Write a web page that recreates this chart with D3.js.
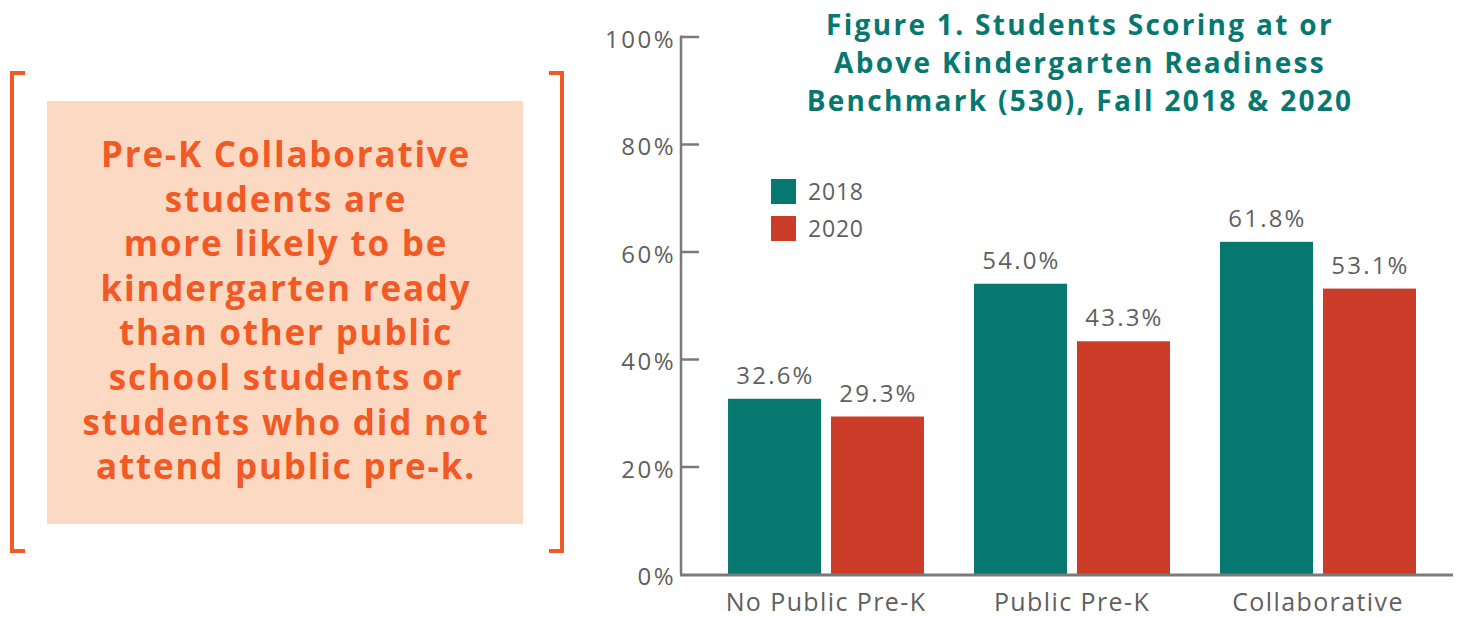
<!DOCTYPE html>
<html>
<head>
<meta charset="utf-8">
<script src="https://cdn.jsdelivr.net/npm/d3@7"></script>
<style>
  body { margin: 0; background: #fff; }
  svg { display: block; font-family: "Open Sans", sans-serif; }
</style>
</head>
<body>
<div id="chart"></div>
<script>
// data
const categories = ["No Public Pre-K", "Public Pre-K", "Collaborative"];
const years = ["2018", "2020"];
const values2018 = [32.6, 54.0, 61.8];
const values2020 = [29.3, 43.3, 53.1];
const yTicks = [0, 20, 40, 60, 80, 100];
const titleLines = ["Figure 1. Students Scoring at or", "Above Kindergarten Readiness", "Benchmark (530), Fall 2018 & 2020"];
const calloutLines = ["Pre-K Collaborative", "students are", "more likely to be", "kindergarten ready",
    "than other public", "school students or", "students who did not", "attend public pre-k."];

const width = 1458, height = 617;
const colors = {"2018": "#077870", "2020": "#cb3d28"};
const orange = "#f15a24";
const grey = "#5f5f5f";

const svg = d3.select("#chart").append("svg")
    .attr("width", width)
    .attr("height", height);

// ---- callout on the left ----
const callout = svg.append("g");
callout.append("rect")
    .attr("x", 47).attr("y", 101)
    .attr("width", 476).attr("height", 423)
    .attr("fill", "#fbd9c3");

// brackets
const bracket = (x, dir) => `M${x + dir * 13},73 H${x} V551 H${x + dir * 13}`;
callout.append("path").attr("d", bracket(12, 1))
    .attr("fill", "none").attr("stroke", orange).attr("stroke-width", 4);
callout.append("path").attr("d", bracket(562, -1))
    .attr("fill", "none").attr("stroke", orange).attr("stroke-width", 4);

callout.append("g")
    .selectAll("text")
    .data(calloutLines)
    .enter().append("text")
    .attr("x", 286)
    .attr("y", (d, i) => 167 + i * 44.6)
    .attr("text-anchor", "middle")
    .attr("fill", orange)
    .attr("font-size", 35)
    .attr("font-weight", 700)
    .attr("letter-spacing", 1.8)
    .text(d => d);

// ---- bar chart ----
const margin = {left: 681, right: 1453, top: 36.5, bottom: 574};

const y = d3.scaleLinear()
    .domain([0, 100])
    .range([margin.bottom, margin.top]);

const x0 = d3.scaleBand()
    .domain(categories)
    .range([703, 1441])
    .paddingInner(0.2033)
    .paddingOuter(0.1017);

const x1 = d3.scaleBand()
    .domain(years)
    .range([0, x0.bandwidth()])
    .paddingInner(0.097);

const rows = categories.map((c, i) => ({
    category: c,
    values: [{year: "2018", value: values2018[i]}, {year: "2020", value: values2020[i]}]
}));

// y axis
const yAxis = svg.append("g")
    .attr("transform", `translate(${margin.left},0)`)
    .call(d3.axisRight(y).tickValues(yTicks).tickSize(18).tickFormat(d => d + "%"));
yAxis.select(".domain").remove();
yAxis.selectAll(".tick line").attr("stroke", "#7a7a7a").attr("stroke-width", 2.5);
yAxis.selectAll(".tick text")
    .attr("x", -5)
    .attr("dy", "0.45em")
    .attr("text-anchor", "end")
    .attr("fill", grey)
    .attr("font-size", 24)
    .attr("letter-spacing", 2.5)
    .attr("font-family", "'Open Sans', sans-serif");
yAxis.selectAll(".tick").filter(d => d === 0).select("line").remove();

// bars
const groups = svg.append("g")
    .selectAll("g")
    .data(rows)
    .enter().append("g")
    .attr("transform", d => `translate(${x0(d.category)},0)`);

groups.selectAll("rect")
    .data(d => d.values)
    .enter().append("rect")
    .attr("x", d => x1(d.year))
    .attr("y", d => y(d.value))
    .attr("width", x1.bandwidth())
    .attr("height", d => y(0) - y(d.value))
    .attr("fill", d => colors[d.year]);

groups.selectAll("text")
    .data(d => d.values)
    .enter().append("text")
    .attr("x", d => x1(d.year) + x1.bandwidth() / 2 + 1)
    .attr("y", d => y(d.value) - 15)
    .attr("text-anchor", "middle")
    .attr("fill", grey)
    .attr("font-size", 24)
    .attr("letter-spacing", 2.2)
    .text(d => d.value.toFixed(1) + "%");

// axis lines
svg.append("line")
    .attr("x1", margin.left).attr("x2", margin.left)
    .attr("y1", y(100) - 1).attr("y2", y(0))
    .attr("stroke", "#7a7a7a").attr("stroke-width", 2.5);
svg.append("line")
    .attr("x1", margin.left - 1).attr("x2", margin.right)
    .attr("y1", y(0) + 1).attr("y2", y(0) + 1)
    .attr("stroke", "#7a7a7a").attr("stroke-width", 3);

// x axis labels
const xAxis = svg.append("g")
    .attr("transform", `translate(0,${margin.bottom})`)
    .call(d3.axisBottom(x0).tickSize(0).tickPadding(19));
xAxis.select(".domain").remove();
xAxis.selectAll(".tick text")
    .attr("fill", grey)
    .attr("font-size", 25)
    .attr("letter-spacing", 1.4)
    .attr("font-family", "'Open Sans', sans-serif");

// legend
const legend = svg.append("g")
    .selectAll("g")
    .data(years)
    .enter().append("g")
    .attr("transform", (d, i) => `translate(771,${179 + i * 37})`);
legend.append("rect")
    .attr("width", 25).attr("height", 25)
    .attr("fill", d => colors[d]);
legend.append("text")
    .attr("x", 37).attr("y", 21)
    .attr("fill", grey)
    .attr("font-size", 23)
    .attr("letter-spacing", 0.8)
    .text(d => d);

// title
svg.append("g")
    .selectAll("text")
    .data(titleLines)
    .enter().append("text")
    .attr("x", 1080)
    .attr("y", (d, i) => 35 + i * 38)
    .attr("text-anchor", "middle")
    .attr("fill", "#077870")
    .attr("font-size", 28)
    .attr("font-weight", 700)
    .attr("letter-spacing", 2.3)
    .text(d => d);
</script>
</body>
</html>
